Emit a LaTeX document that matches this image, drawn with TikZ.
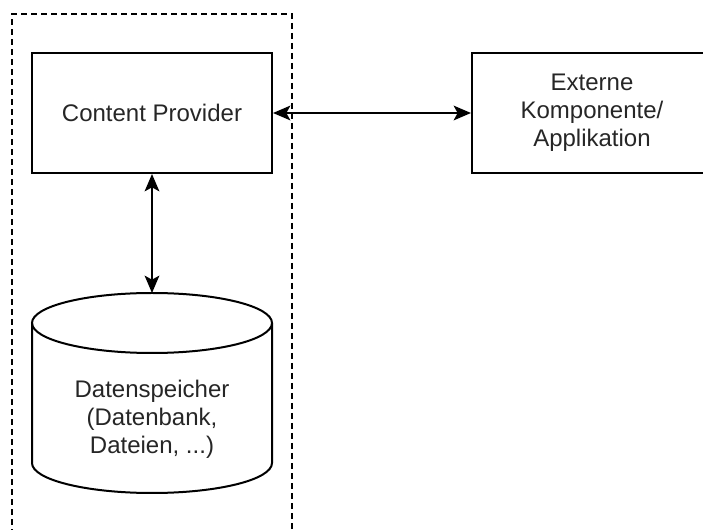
\documentclass[tikz,border=0pt]{standalone}
\usepackage{fontspec}
\setmainfont{Liberation Sans}
\usepackage{xcolor}
\definecolor{inkgray}{HTML}{262626}
\usepackage{tikz}
\usetikzlibrary{arrows.meta, positioning}

\tikzset{
  box/.style={draw=black, line width=1.5pt, minimum width=180pt, minimum height=90pt,
    inner sep=0pt, align=center, text=inkgray, font=\fontsize{18pt}{21pt}\selectfont},
  label text/.style={align=center, text=inkgray, font=\fontsize{18pt}{21pt}\selectfont},
  link/.style={line width=1.5pt, {Stealth[length=13pt, width=11pt, inset=3pt]}-{Stealth[length=13pt, width=11pt, inset=3pt]}},
  frame/.style={line width=1.2pt, dash pattern=on 4.5pt off 3pt}
}

\begin{document}
\begin{tikzpicture}[x=0.75pt, y=-0.75pt]
  \useasboundingbox (0,0) rectangle (703,530);
  \clip (0,0) rectangle (703,530);

  % --- Dashed frame around the app ---
  \draw[frame] (12,545) -- (12,14) -- (292,14) -- (292,545);

  % --- Boxes ---
  \node[box] (cp) at (152,113) {Content Provider};
  \node[box] (ext) at (592,113) {Externe\\Komponente/\\Applikation};

  % --- Datenspeicher (cylinder) ---
  \draw[line width=1.5pt] (32,323) -- (32,463) arc (180:0:120 and 30) -- (272,323);
  \draw[line width=1.5pt] (152,323) ellipse [x radius=120, y radius=30];
  \coordinate (dbtop) at (152,293);
  \node[label text] (db) at (152,419) {Datenspeicher\\(Datenbank,\\Dateien, ...)};

  % --- Connectors ---
  \draw[link] (cp.south) -- (dbtop);
  \draw[link] (cp.east) -- (ext.west);
\end{tikzpicture}
\end{document}
